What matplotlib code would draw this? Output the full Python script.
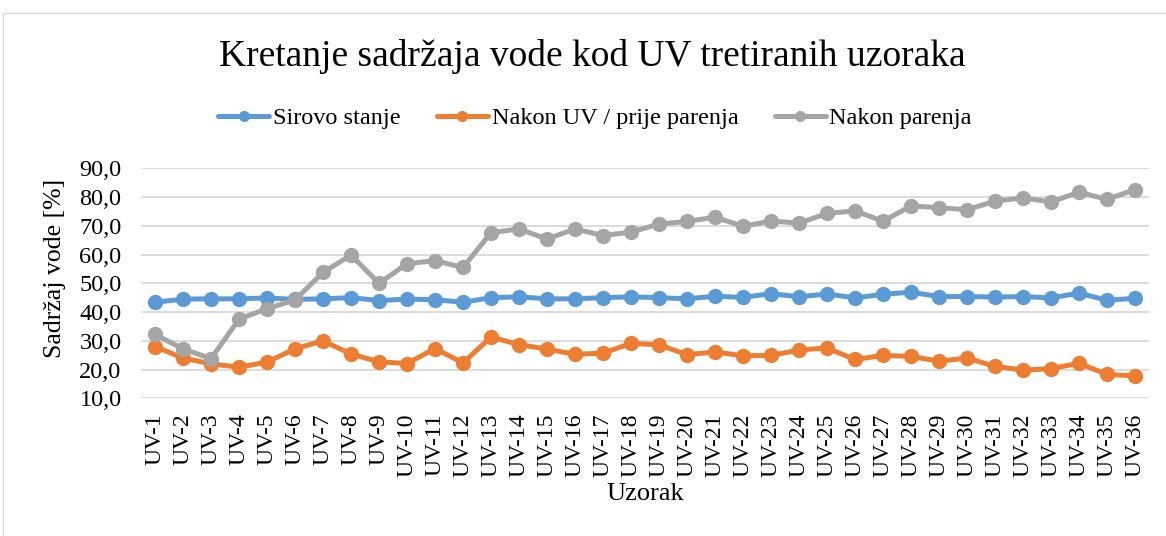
import matplotlib
matplotlib.use('Agg')
import matplotlib.pyplot as plt
import numpy as np
from matplotlib.patches import Rectangle

# Sample labels and measured water content [%]
samples = [f'UV-{i}' for i in range(1, 37)]
sirovo = [43.4, 44.5, 44.6, 44.6, 44.9, 44.4, 44.6, 45.0, 44.0, 44.5, 44.3, 43.4,
          45.0, 45.3, 44.6, 44.6, 45.0, 45.3, 45.0, 44.6, 45.5, 45.1, 46.4, 45.3,
          46.3, 44.9, 46.2, 46.9, 45.4, 45.4, 45.2, 45.4, 44.9, 46.6, 44.1, 44.8]
nakon_uv = [28.0, 24.0, 22.0, 20.8, 22.6, 27.2, 30.0, 25.4, 22.7, 22.1, 27.3, 22.3,
            31.3, 28.7, 27.1, 25.3, 25.7, 29.1, 28.6, 25.2, 26.1, 24.8, 24.9, 26.8,
            27.5, 23.5, 24.9, 24.6, 22.9, 24.0, 21.1, 19.8, 20.3, 22.2, 18.3, 17.8]
nakon_par = [32.2, 27.2, 23.8, 37.5, 41.2, 44.2, 53.8, 59.8, 50.0, 56.8, 57.9, 55.5,
             67.6, 68.9, 65.4, 68.9, 66.6, 67.8, 70.6, 71.5, 73.0, 69.8, 71.7, 70.9,
             74.3, 75.2, 71.6, 76.9, 76.3, 75.6, 78.6, 79.7, 78.3, 81.7, 79.2, 82.6]

series = [('Sirovo stanje', sirovo, '#5B9BD5'),
          ('Nakon UV / prije parenja', nakon_uv, '#ED7D31'),
          ('Nakon parenja', nakon_par, '#A5A5A5')]

plt.rcParams['font.family'] = ['Liberation Serif', 'DejaVu Serif']

W, H = 1166, 536
fig = plt.figure(figsize=(W / 100, H / 100), dpi=100)
# light chart-area border like Excel
fig.patches.append(Rectangle((3 / W, -0.01), 1.02, 1 - 13 / H + 0.01,
                             transform=fig.transFigure, fill=False,
                             edgecolor='#D9D9D9', linewidth=1.0))

ax = fig.add_axes([141 / W, 1 - 398.3 / H, 1008 / W, 230 / H])
x = np.arange(len(samples))
for name, vals, col in series:
    ax.plot(x, vals, color=col, linewidth=3.6, marker='o', markersize=10,
            label=name, solid_capstyle='round')

ax.set_xlim(-0.5, len(samples) - 0.5)
ax.set_ylim(10, 90)
ax.set_yticks(np.arange(10, 91, 10))
ax.set_yticklabels([f'{v:.1f}'.replace('.', ',') for v in range(10, 91, 10)], fontsize=17.5)
ax.set_xticks(x)
ax.set_xticklabels(samples, rotation=90, fontsize=17)
ax.tick_params(axis='y', length=0, pad=14)
ax.tick_params(axis='x', length=0, pad=11)
ax.grid(axis='y', color='#D9D9D9', linewidth=1.3)
ax.set_axisbelow(True)
for s in ax.spines.values():
    s.set_visible(False)

ax.set_ylabel('Sadržaj vode [%]', fontsize=18.5, va='center')
ax.yaxis.set_label_coords(55 / W, 0.5, transform=fig.transFigure)
ax.set_xlabel('Uzorak', fontsize=19, va='center')
ax.xaxis.set_label_coords(0.5, -(494 - 398.3) / 230)

fig.text(592 / W, 1 - 57 / H, 'Kretanje sadržaja vode kod UV tretiranih uzoraka',
         ha='center', va='center', fontsize=27)
fig.legend(loc='center', bbox_to_anchor=(595 / W, 1 - 118 / H), ncol=3,
           frameon=False, fontsize=17.5, handlelength=2.1, columnspacing=1.5,
           handletextpad=0.15, markerscale=0.7)

fig.savefig('out.png', dpi=100)
